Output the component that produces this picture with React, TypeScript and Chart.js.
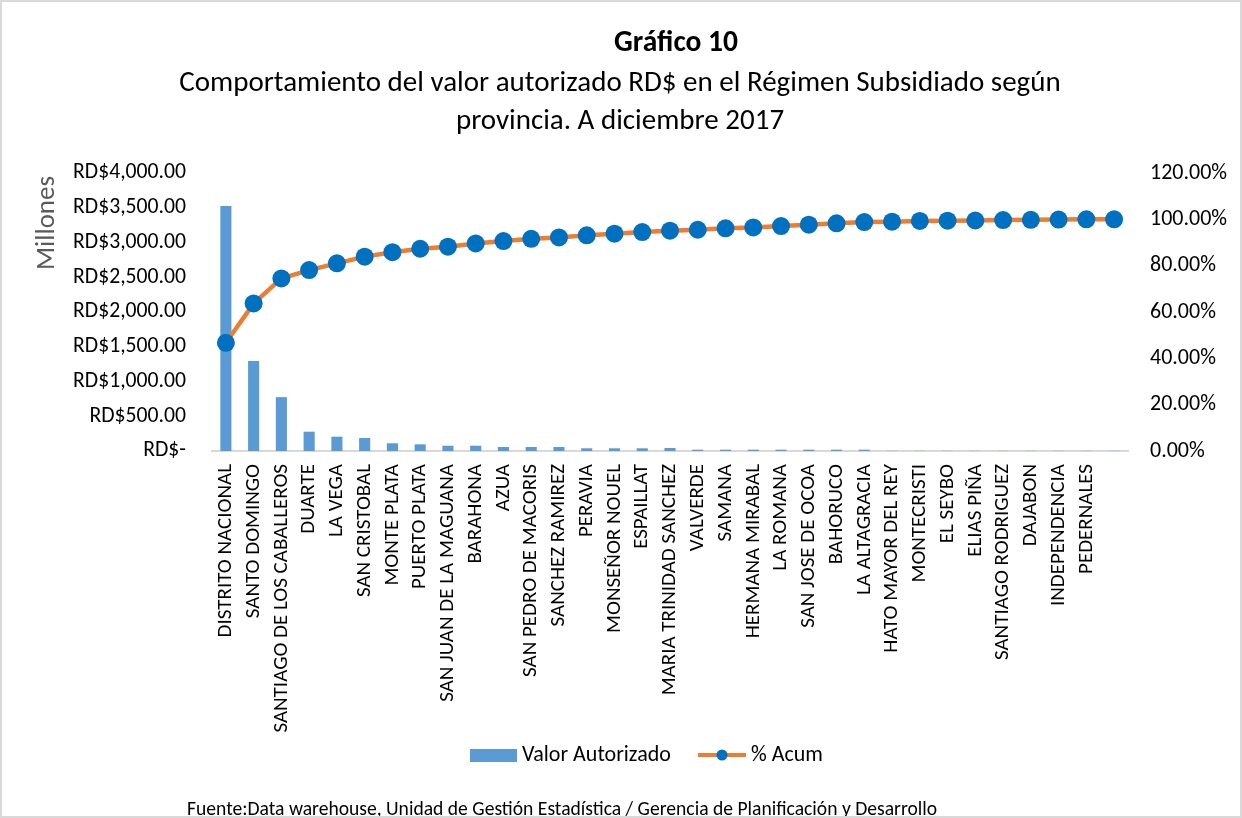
import React, { useEffect, useRef } from "react";
import { Chart, registerables } from "chart.js";

Chart.register(...registerables);

const PROVINCIAS = [
  "DISTRITO NACIONAL", "SANTO DOMINGO", "SANTIAGO DE LOS CABALLEROS", "DUARTE", "LA VEGA",
  "SAN CRISTOBAL", "MONTE PLATA", "PUERTO PLATA", "SAN JUAN DE LA MAGUANA", "BARAHONA",
  "AZUA", "SAN PEDRO DE MACORIS", "SANCHEZ RAMIREZ", "PERAVIA", "MONSEÑOR NOUEL",
  "ESPAILLAT", "MARIA TRINIDAD SANCHEZ", "VALVERDE", "SAMANA", "HERMANA MIRABAL",
  "LA ROMANA", "SAN JOSE DE OCOA", "BAHORUCO", "LA ALTAGRACIA", "HATO MAYOR DEL REY",
  "MONTECRISTI", "EL SEYBO", "ELIAS PIÑA", "SANTIAGO RODRIGUEZ", "DAJABON",
  "INDEPENDENCIA", "PEDERNALES", "",
];

// Millones RD$
const VALOR_AUTORIZADO = [
  3525, 1295, 775, 278, 206, 187, 111, 96, 76, 76,
  58, 58, 58, 39, 39, 39, 43, 19, 19, 19,
  19, 19, 19, 19, 3, 3, 3, 3, 3, 3,
  3, 3, 3,
];

// % acumulado
const PCT_ACUM = [
  46.7, 63.7, 74.5, 78.1, 81.0, 83.9, 85.8, 87.3, 88.2, 89.6,
  90.6, 91.6, 92.2, 93.1, 93.8, 94.5, 95.1, 95.5, 96.1, 96.5,
  97.1, 97.7, 98.3, 98.8, 99.0, 99.3, 99.4, 99.5, 99.7, 99.8,
  99.9, 100.0, 100.0,
];

const TITLE = "Gráfico 10";
const SUBTITLE = [
  "Comportamiento del valor autorizado RD$ en el Régimen Subsidiado según",
  "provincia. A diciembre 2017",
];
const FOOTER = "Fuente:Data warehouse, Unidad de Gestión Estadística / Gerencia de Planificación y Desarrollo";
const LEGEND_BAR = "Valor Autorizado";
const LEGEND_LINE = "% Acum";
const AXIS_TITLE = "Millones";

const FONT = "Carlito, 'Liberation Sans Narrow', 'Open Sans', sans-serif";
const BAR_COLOR = "#5B9BD5";
const LINE_COLOR = "#ED7D31";
const POINT_COLOR = "#0070C0";

const W = 1242;
const H = 818;

function fmtMoney(v: number): string {
  if (v === 0) return "RD$-";
  return "RD$" + v.toLocaleString("en-US", { minimumFractionDigits: 2, maximumFractionDigits: 2 });
}

const decorPlugin = {
  id: "decor",
  afterDraw(chart: any) {
    const ctx = chart.ctx as CanvasRenderingContext2D;
    ctx.save();
    ctx.fillStyle = "#000";
    ctx.textBaseline = "middle";
    ctx.textAlign = "center";
    ctx.font = `bold 29.5px ${FONT}`;
    ctx.fillText(TITLE, 676, 44);
    ctx.font = `29px ${FONT}`;
    ctx.fillText(SUBTITLE[0], 620, 84);
    ctx.fillText(SUBTITLE[1], 620, 122);

    // axis title
    ctx.save();
    ctx.translate(47, 223);
    ctx.rotate(-Math.PI / 2);
    ctx.fillStyle = "#595959";
    ctx.font = `27px ${FONT}`;
    ctx.fillText(AXIS_TITLE, 0, 0);
    ctx.restore();

    // legend
    ctx.fillStyle = BAR_COLOR;
    ctx.fillRect(470, 749, 47, 13);
    ctx.fillStyle = "#000";
    ctx.textAlign = "left";
    ctx.font = `22px ${FONT}`;
    ctx.fillText(LEGEND_BAR, 522, 755);
    ctx.strokeStyle = LINE_COLOR;
    ctx.lineWidth = 4;
    ctx.beginPath();
    ctx.moveTo(698, 755);
    ctx.lineTo(746, 755);
    ctx.stroke();
    ctx.fillStyle = POINT_COLOR;
    ctx.beginPath();
    ctx.arc(722, 755, 5.5, 0, Math.PI * 2);
    ctx.fill();
    ctx.fillStyle = "#000";
    ctx.fillText(LEGEND_LINE, 751, 755);

    // footer
    ctx.font = `19.6px ${FONT}`;
    ctx.fillText(FOOTER, 187, 810);

    // border
    ctx.strokeStyle = "#d9d9d9";
    ctx.lineWidth = 2;
    ctx.strokeRect(1, 1, W - 2, H - 2);
    ctx.restore();
  },
};

export default function App() {
  const ref = useRef<HTMLCanvasElement | null>(null);

  useEffect(() => {
    document.body.style.margin = "0";
    const canvas = ref.current;
    if (!canvas) return;
    const chart = new Chart(canvas, {
      data: {
        labels: PROVINCIAS,
        datasets: [
          {
            type: "line",
            label: LEGEND_LINE,
            data: PCT_ACUM,
            yAxisID: "y1",
            borderColor: LINE_COLOR,
            borderWidth: 4.5,
            pointBackgroundColor: POINT_COLOR,
            pointBorderColor: POINT_COLOR,
            pointRadius: 9,
            pointBorderWidth: 0,
            tension: 0,
            order: 0,
          },
          {
            type: "bar",
            label: LEGEND_BAR,
            data: VALOR_AUTORIZADO,
            yAxisID: "y",
            backgroundColor: BAR_COLOR,
            barPercentage: 0.4,
            categoryPercentage: 1,
            order: 1,
          },
        ],
      } as any,
      options: {
        animation: false,
        responsive: false,
        maintainAspectRatio: false,
        layout: { padding: { top: 173, left: 0, right: 0, bottom: 0 } },
        plugins: {
          legend: { display: false },
          title: { display: false },
          tooltip: { enabled: false },
        },
        scales: {
          x: {
            type: "category",
            offset: true,
            grid: { display: false, drawTicks: false },
            border: { display: true, color: "#d9d9d9", width: 2 },
            ticks: {
              autoSkip: false,
              maxRotation: 90,
              minRotation: 90,
              padding: 13,
              color: "#000",
              font: { family: FONT, size: 21 },
            },
            afterFit: (s: any) => {
              s.height = H - 451;
            },
          },
          y: {
            position: "left",
            min: 0,
            max: 4000,
            grid: { display: false, drawTicks: false },
            border: { display: false },
            ticks: {
              stepSize: 500,
              padding: 26,
              color: "#000",
              font: { family: FONT, size: 21.7 },
              callback: (v: any) => fmtMoney(Number(v)),
            },
            afterFit: (s: any) => {
              s.width = 212;
            },
          },
          y1: {
            position: "right",
            min: 0,
            max: 120,
            grid: { display: false, drawTicks: false },
            border: { display: false },
            ticks: {
              stepSize: 20,
              padding: 22,
              color: "#000",
              font: { family: FONT, size: 22 },
              callback: (v: any) => Number(v).toFixed(2) + "%",
            },
            afterFit: (s: any) => {
              s.width = W - 1128;
            },
          },
        },
      } as any,
      plugins: [decorPlugin],
    });
    return () => chart.destroy();
  }, []);

  return (
    <div style={{ position: "absolute", left: 0, top: 0, width: W, height: H, background: "#fff" }}>
      <canvas ref={ref} width={W} height={H} style={{ width: W, height: H, display: "block" }} />
    </div>
  );
}
